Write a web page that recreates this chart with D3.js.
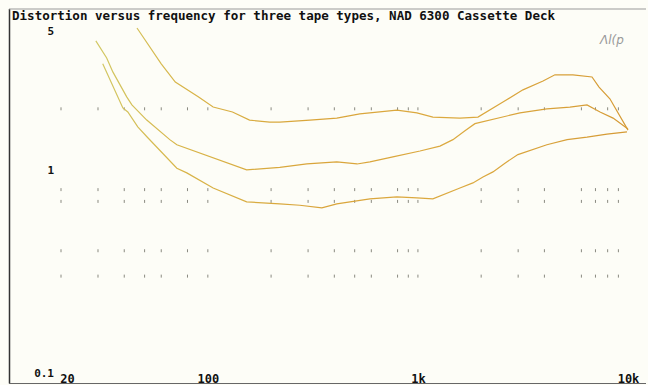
<!DOCTYPE html>
<html><head><meta charset="utf-8">
<script src="https://cdn.jsdelivr.net/npm/d3@7"></script>
<style>
html,body{margin:0;padding:0;background:#fdfdf7;}
svg{display:block;}
</style></head>
<body><svg id="chart" width="648" height="385"></svg>
<script>
// ---- data ----
const title = "Distortion versus frequency for three tape types, NAD 6300 Cassette Deck";
const xTickValues = [20, 100, 1000, 10000];
const xTickLabels = ["20", "100", "1k", "10k"];
const yTickValues = [5, 1, 0.1];
const yTickLabels = ["5", "1", "0.1"];
const gridFreqs = [20,30,40,50,60,80,100,200,300,400,500,600,800,900,1000,2000,3000,4000,6000,7000,8000,9000];
const gridLevels = [2, 0.8, 0.7, 0.4, 0.3];

const freqTop = [46,60,70,90,106,131,158,197,220,306,411,529,794,989,1178,1585,1931,2540,3162,3940,4490,5470,6740,7280,8200,10000];
const valTop  = [5.0,3.33,2.71,2.29,2.04,1.93,1.76,1.72,1.72,1.76,1.80,1.89,1.97,1.91,1.82,1.80,1.82,2.16,2.48,2.74,2.94,2.94,2.87,2.56,2.24,1.57];

const freqMid = [29.3,33,35.3,41.1,43.5,51.2,65.9,71.2,153,220,296,411,513,591,760,1023,1273,1468,1675,1868,3060,4110,5290,6380,7360,8490,10000];
const valMid  = [4.32,3.56,3.04,2.29,2.09,1.76,1.41,1.33,1.0,1.03,1.07,1.095,1.07,1.095,1.16,1.24,1.31,1.41,1.56,1.69,1.91,2.0,2.04,2.09,1.93,1.80,1.59];

const freqLow = [31.6,39.4,41.6,46.4,51.8,71.2,79.4,106,153,220,274,349,411,591,794,989,1178,1585,1827,2040,2276,2596,2992,4110,5130,6380,7940,9890];
const valLow  = [3.33,2.02,1.93,1.63,1.44,1.02,0.967,0.815,0.696,0.68,0.67,0.65,0.68,0.72,0.736,0.728,0.72,0.815,0.863,0.924,0.978,1.08,1.19,1.33,1.41,1.45,1.50,1.54];

const series = [
  {f: freqTop, v: valTop},
  {f: freqMid, v: valMid},
  {f: freqLow, v: valLow}
];

// ---- drawing ----
const svg = d3.select("#chart");
const x = d3.scaleLog().domain([20, 10000]).range([61, 628]);
const y = d3.scaleLog().domain([0.1, 5]).range([373, 28]);

// frame
svg.append("line").attr("x1", 9.5).attr("x2", 9.5).attr("y1", 9).attr("y2", 383.5)
  .attr("stroke", "#333").attr("stroke-width", 1.5);
svg.append("line").attr("x1", 9).attr("x2", 646).attr("y1", 383.5).attr("y2", 383.5)
  .attr("stroke", "#666").attr("stroke-width", 1.2);
svg.append("line").attr("x1", 9).attr("x2", 646).attr("y1", 9).attr("y2", 9)
  .attr("stroke", "#999").attr("stroke-width", 1);

// title
svg.append("text").attr("x", 12).attr("y", 20)
  .attr("font-family", "DejaVu Sans Mono, monospace").attr("font-weight", "bold")
  .attr("font-size", 12).attr("fill", "#111")
  .attr("textLength", 543).attr("lengthAdjust", "spacingAndGlyphs")
  .text(title);

// dotted grid marks
const gridPts = [];
gridLevels.forEach(l => gridFreqs.forEach(f => gridPts.push([f, l])));
svg.append("g").selectAll("rect").data(gridPts).join("rect")
  .attr("x", d => x(d[0]) - 0.5).attr("y", d => y(d[1]) - 1.5)
  .attr("width", 1).attr("height", 3).attr("fill", "#8a8a80");

// curves
const defs = svg.append("defs");
const grad = defs.append("linearGradient").attr("id", "cg")
  .attr("gradientUnits", "userSpaceOnUse")
  .attr("x1", x(20)).attr("x2", x(10000)).attr("y1", 0).attr("y2", 0);
grad.append("stop").attr("offset", "0%").attr("stop-color", "#cfd070");
grad.append("stop").attr("offset", "22%").attr("stop-color", "#d8b448");
grad.append("stop").attr("offset", "45%").attr("stop-color", "#d9a43a");
grad.append("stop").attr("offset", "70%").attr("stop-color", "#dcaa40");
grad.append("stop").attr("offset", "100%").attr("stop-color", "#d59a35");

const line = d3.line().x(d => x(d[0])).y(d => y(d[1]));
svg.append("g").selectAll("path").data(series).join("path")
  .attr("d", s => line(s.f.map((f, i) => [f, s.v[i]])))
  .attr("fill", "none").attr("stroke", "url(#cg)").attr("stroke-width", 1.2);

// axes
const xAxis = d3.axisBottom(x).tickValues(xTickValues)
  .tickFormat((d, i) => xTickLabels[i]).tickSize(0).tickPadding(4);
const gx = svg.append("g").attr("transform", "translate(0,370)").call(xAxis);
gx.select(".domain").remove();
gx.selectAll("text").attr("font-family", "DejaVu Sans Mono, monospace")
  .attr("font-weight", "bold").attr("font-size", 12).attr("fill", "#111")
  .attr("dx", (d, i) => i === 0 ? 6 : 0);

const yAxis = d3.axisLeft(y).tickValues(yTickValues)
  .tickFormat((d, i) => yTickLabels[i]).tickSize(0).tickPadding(7);
const gy = svg.append("g").attr("transform", "translate(61,0)").call(yAxis);
gy.select(".domain").remove();
gy.selectAll("text").attr("font-family", "DejaVu Sans Mono, monospace")
  .attr("font-weight", "bold").attr("font-size", 11).attr("fill", "#111")
  .attr("dy", (d, i) => i === 0 ? "0.55em" : "0.32em");

// handwritten note
svg.append("text").attr("x", 600).attr("y", 44)
  .attr("font-family", "DejaVu Sans, sans-serif").attr("font-size", 12)
  .attr("fill", "#999").attr("font-style", "italic").text("Λl(p");
</script>
</body></html>
